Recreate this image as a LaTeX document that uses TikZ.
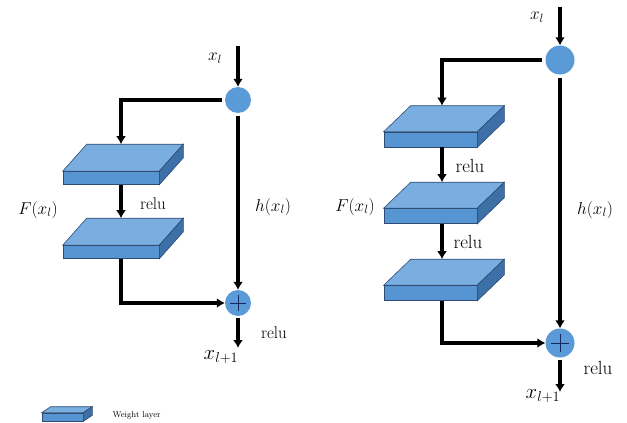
\documentclass[tikz,border=0pt]{standalone}
\usetikzlibrary{arrows.meta,positioning,calc}
\definecolor{slabtop}{RGB}{122,174,224}
\definecolor{slabfront}{RGB}{86,148,210}
\definecolor{slabside}{RGB}{62,112,168}
\definecolor{slabedge}{RGB}{45,75,115}
\definecolor{junction}{RGB}{90,154,215}
\definecolor{plusmark}{RGB}{20,40,100}

\begin{document}
\begin{tikzpicture}[x=1pt,y=-1pt,
  every node/.style={font=\fontsize{17}{19}\selectfont},
  slab/.style={draw=slabedge,fill=slabfront,inner sep=0pt,line width=0.6pt},
  joint/.style={circle,fill=junction,inner sep=0pt},
  adder/.style={joint,path picture={\draw[plusmark,line width=0.9pt]
    ([xshift=-#1]path picture bounding box.center) -- ([xshift=#1]path picture bounding box.center)
    ([yshift=-#1]path picture bounding box.center) -- ([yshift=#1]path picture bounding box.center);}},
  flow/.style={line width=3.6pt,-{Latex[length=8pt,width=10pt]}}]
\useasboundingbox (0,0) rectangle (627,423);

% left block: two weight layers
\node[joint,minimum size=26pt] (lsplit) at (238,100) {};
\node[slab,minimum width=96pt,minimum height=13pt] (la) at (111,178) {};
\node[slab,minimum width=96pt,minimum height=13pt] (lb) at (111,252) {};
\node[adder=8pt,minimum size=26pt] (lplus) at (238,303) {};
\coordinate (lin) at (238,46);
\coordinate (lout) at (238,348);

% right block: three weight layers
\node[joint,minimum size=29pt] (rsplit) at (560,60) {};
\node[slab,minimum width=93pt,minimum height=15pt] (ra) at (430.5,139.5) {};
\node[slab,minimum width=93pt,minimum height=15pt] (rb) at (430.5,216) {};
\node[slab,minimum width=93pt,minimum height=15pt] (rc) at (430.5,293) {};
\node[adder=9pt,minimum size=29pt] (rplus) at (560,343) {};
\coordinate (rin) at (560,7);
\coordinate (rout) at (560,392);

% legend
\node[slab,minimum width=41pt,minimum height=8pt] (key) at (62.5,417) {};
\node[font=\fontsize{8.5}{9}\selectfont,anchor=west] (keytext) at (109,415) {Weight layer};

% top and side faces of the layers
\foreach \n/\dx/\dy in {la/24/27,lb/24/27,ra/27/26,rb/27/26,rc/27/26,key/9/6}{
  \filldraw[slab,fill=slabtop] (\n.north west) -- ([shift={(\dx,-\dy)}]\n.north west)
    -- ([shift={(\dx,-\dy)}]\n.north east) -- (\n.north east) -- cycle;
  \filldraw[slab,fill=slabside] (\n.north east) -- ([shift={(\dx,-\dy)}]\n.north east)
    -- ([shift={(\dx,-\dy)}]\n.south east) -- (\n.south east) -- cycle;
  \coordinate (\n-in) at ([shift={(\dx/2-2,-\dy)}]\n.north);
  \coordinate (\n-out) at ([shift={(\dx/2-2,0)}]\n.south);
}

% left connectors
\draw[flow] (lin) -- (lsplit.north);
\draw[flow,shorten <=3pt] (lsplit.west) -| (la-in);
\draw[flow] (la-out) -- (lb-in);
\draw[flow] (lb-out) |- (lplus.west);
\draw[flow,shorten <=3pt] (lsplit.south) -- (lplus.north);
\draw[flow,shorten <=2pt] (lplus.south) -- (lout);

% right connectors
\draw[flow] (rin) -- (rsplit.north);
\draw[flow,shorten <=3pt] (rsplit.west) -| (ra-in);
\draw[flow] (ra-out) -- (rb-in);
\draw[flow] (rb-out) -- (rc-in);
\draw[flow] (rc-out) |- (rplus.west);
\draw[flow,shorten <=3pt] (rsplit.south) -- (rplus.north);
\draw[flow,shorten <=2pt] (rplus.south) -- (rout);

% labels
\node (lxin) at (215,58) {$x_l$};
\node (lrelu1) at (153,204) {relu};
\node (lF) at (38,210) {$F(x_l)$};
\node (lh) at (273,207) {$h(x_l)$};
\node (lrelu2) at (274,333) {relu};
\node[font=\fontsize{22}{24}\selectfont] (lxout) at (221,357) {$x_{l+1}$};

\node (rxin) at (537,17) {$x_l$};
\node[font=\fontsize{19}{21}\selectfont] (rrelu1) at (470,166) {relu};
\node[font=\fontsize{19}{21}\selectfont] (rrelu2) at (468,242) {relu};
\node (rF) at (355,207) {$F(x_l)$};
\node (rh) at (595,210) {$h(x_l)$};
\node[font=\fontsize{19}{21}\selectfont] (rrelu3) at (598,368) {relu};
\node[font=\fontsize{22}{24}\selectfont] (rxout) at (543,396) {$x_{l+1}$};
\end{tikzpicture}
\end{document}
